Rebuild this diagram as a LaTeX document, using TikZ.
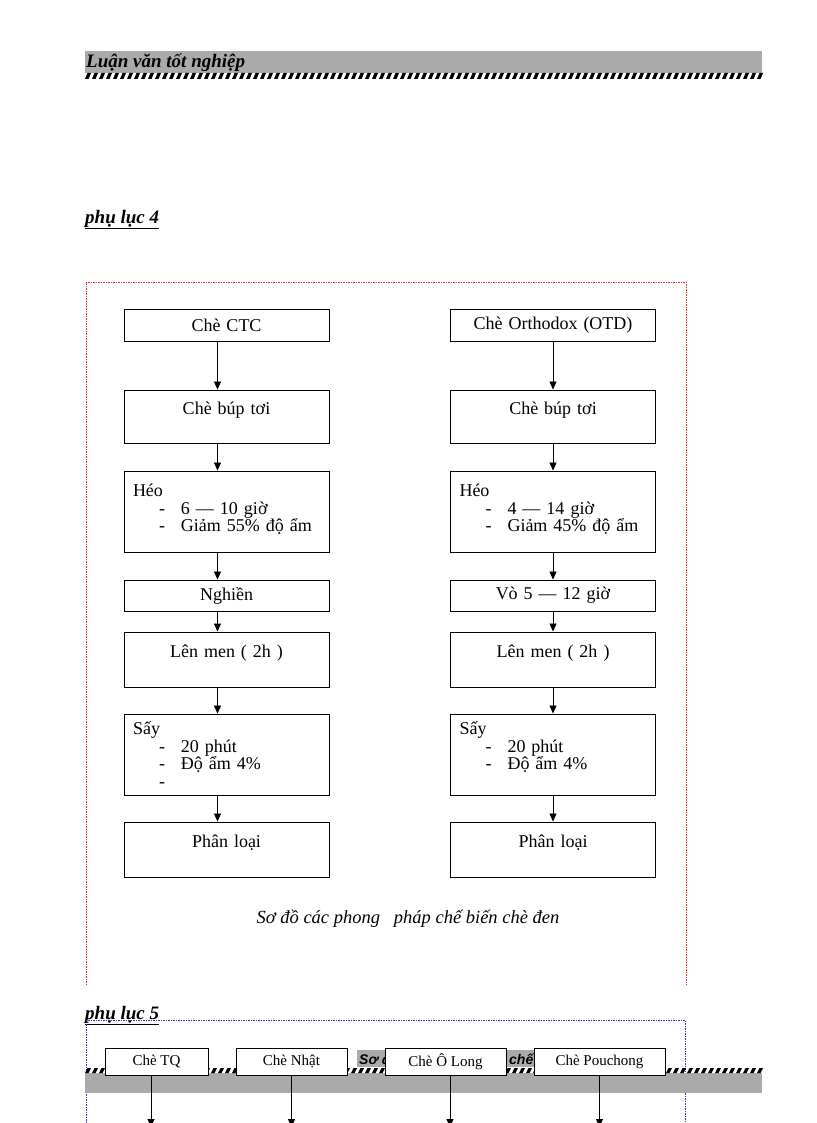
\documentclass[tikz,border=0pt]{standalone}
\usepackage{fontspec}
\setmainfont{Liberation Serif}
\setsansfont{Liberation Sans}
\usetikzlibrary{arrows.meta, positioning}
\definecolor{bargray}{RGB}{170,170,170}
\definecolor{framered}{RGB}{225,45,45}
\definecolor{frameblue}{RGB}{50,50,225}
\newcommand{\dashitem}[1]{\hspace*{26pt}\makebox[22pt][l]{-}#1}

\tikzset{
  stepbox/.style={draw, line width=0.9pt, fill=white, text width=187pt, inner xsep=9pt, inner ysep=0pt,
    minimum height=#1, align=center, font=\fontsize{18}{17.5}\selectfont},
  kindbox/.style={draw, line width=0.9pt, fill=white, minimum width=#1, minimum height=27pt, inner sep=0pt,
    font=\fontsize{15}{15}\selectfont},
  flow/.style={-{Triangle[width=7pt,length=8pt]}, line width=0.8pt},
  annex/.style={anchor=base west, inner sep=0pt, font=\bfseries\itshape\fontsize{19}{19}\selectfont}
}

\begin{document}
\begin{tikzpicture}[x=1pt, y=-1pt]
\useasboundingbox (0,0) rectangle (816,1123);

% Page header
\fill[bargray] (85,51) rectangle (762,73);
\foreach \x in {85,92,...,757}
  \fill (\x,79) -- (\x+3.5,79) -- (\x+6,73) -- (\x+2.5,73) -- cycle;
\node[anchor=base west, inner sep=0pt, font=\bfseries\itshape\fontsize{19}{19}\selectfont] (thesis) at (86,68) {Luận văn tốt nghiệp};

% Appendix 4
\node[annex] (pl4) at (85,223) {\underline{phụ lục 4}};
\draw[framered, line width=0.7pt, dash pattern=on 1.5pt off 1pt] (86,985) -- (86,282) -- (686,282) -- (686,985);

% CTC line
\node[stepbox=32] (ctc) at (226.5,325) {Chè CTC};
\node[stepbox=53] (bup1) at (226.5,416.5) {Chè búp tơi\\~};
\node[stepbox=81, align=left] (heo1) at (226.5,511.5) {Héo\\ \dashitem{6 — 10 giờ}\\ \dashitem{Giảm 55\% độ ẩm}\\[-10pt]~};
\node[stepbox=31] (nghien) at (226.5,595.5) {Nghiền};
\node[stepbox=55] (men1) at (226.5,659.5) {Lên men ( 2h )\\~};
\node[stepbox=81, align=left] (say1) at (226.5,754.5) {Sấy\\ \dashitem{20 phút}\\ \dashitem{Độ ẩm 4\%}\\ \dashitem{}};
\node[stepbox=55] (loai1) at (226.5,849.5) {Phân loại\\~};

% Orthodox line
\node[stepbox=32] (otd) at (553,325) {Chè Orthodox (OTD)};
\node[stepbox=53] (bup2) at (553,416.5) {Chè búp tơi\\~};
\node[stepbox=81, align=left] (heo2) at (553,511.5) {Héo\\ \dashitem{4 — 14 giờ}\\ \dashitem{Giảm 45\% độ ẩm}\\[-10pt]~};
\node[stepbox=31] (vo) at (553,595.5) {Vò 5 — 12 giờ};
\node[stepbox=55] (men2) at (553,659.5) {Lên men ( 2h )\\~};
\node[stepbox=81, align=left] (say2) at (553,754.5) {Sấy\\ \dashitem{20 phút}\\ \dashitem{Độ ẩm 4\%}\\ ~};
\node[stepbox=55] (loai2) at (553,849.5) {Phân loại\\~};

% Arrows
\foreach \a/\b in {ctc/bup1, bup1/heo1, heo1/nghien, nghien/men1, men1/say1, say1/loai1}
  \draw[flow] ([xshift=-9pt]\a.south) -- ([xshift=-9pt]\b.north);
\foreach \a/\b in {otd/bup2, bup2/heo2, heo2/vo, vo/men2, men2/say2, say2/loai2}
  \draw[flow] (\a) -- (\b.north);

\node[font=\itshape\fontsize{18.5}{18.5}\selectfont] (cap4) at (408,919) {Sơ đồ các phong\ \ \ pháp chế biến chè đen};

% Appendix 5
\node[annex] (pl5) at (85,1019) {\underline{phụ lục 5}};
\draw[frameblue, line width=0.7pt, dash pattern=on 1.5pt off 1pt] (86,1123) -- (86,1020) -- (685,1020) -- (685,1123);

% next page header behind
\fill[bargray] (85,1073) rectangle (762,1093);
\foreach \x in {85,92,...,757}
  \fill (\x,1073) -- (\x+3.5,1073) -- (\x+6,1068) -- (\x+2.5,1068) -- cycle;
\fill[bargray] (357,1050) rectangle (534,1067);
\node[anchor=base west, inner sep=0pt, font=\sffamily\bfseries\itshape\fontsize{14}{14}\selectfont] (frag1) at (359,1064) {Sơ đ};
\node[anchor=base west, inner sep=0pt, font=\sffamily\bfseries\itshape\fontsize{14}{14}\selectfont] (frag2) at (509,1064) {chế};

\node[kindbox=103] (tq) at (156.5,1061.5) {Chè TQ};
\node[kindbox=111] (nhat) at (291.5,1061.5) {Chè Nhật};
\node[kindbox=121] (olong) at (445.5,1061.5) {Chè Ô Long};
\node[kindbox=131] (pouch) at (599.5,1061.5) {Chè Pouchong};

\coordinate (tqend) at (151,1127);
\coordinate (nhatend) at (291.5,1127);
\coordinate (olongend) at (450,1127);
\coordinate (pouchend) at (599.5,1127);
\foreach \k in {tq, nhat, olong, pouch}
  \draw[flow] (\k.south -| \k end) -- (\k end);
\end{tikzpicture}
\end{document}
